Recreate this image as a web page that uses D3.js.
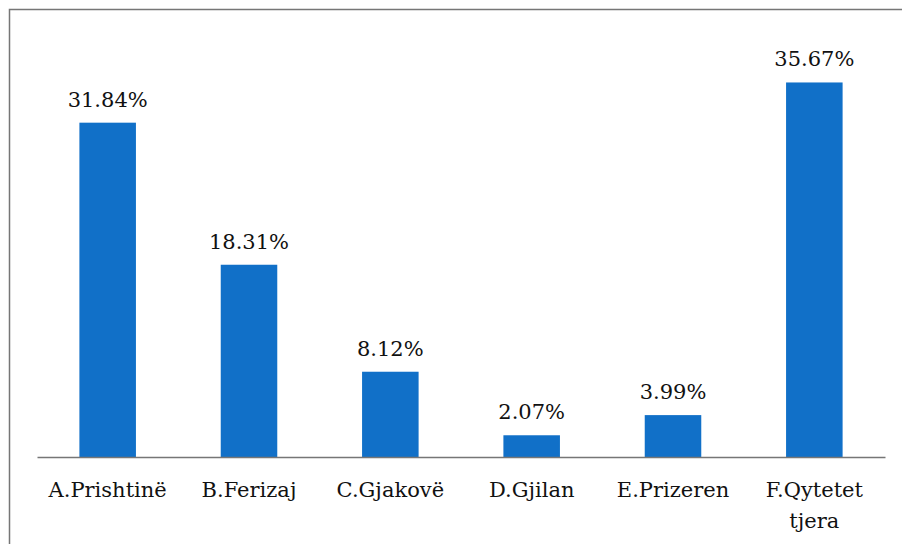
<!DOCTYPE html>
<html>
<head>
<meta charset="utf-8">
<script src="https://cdn.jsdelivr.net/npm/d3@7"></script>
<style>
  html, body { margin: 0; padding: 0; background: #fff; }
  svg { display: block; }
  text { font-family: "DejaVu Serif", "Liberation Serif", serif; fill: #111; }
</style>
</head>
<body>
<script>
//-----------------Data----------------

const categories = ["A.Prishtinë", "B.Ferizaj", "C.Gjakovë", "D.Gjilan", "E.Prizeren", "F.Qytetet tjera"];
const values = [31.84, 18.31, 8.12, 2.07, 3.99, 35.67];
const valueLabels = ["31.84%", "18.31%", "8.12%", "2.07%", "3.99%", "35.67%"];

//-----------------Main svg------------------

const width = 902;
const height = 544;
const margin = { top: 37, right: 17, bottom: 87, left: 37 };

const svg = d3.select("body").append("svg").attr("width", width).attr("height", height);

// chart border, runs off the right and bottom edge like the original
svg
  .append("rect")
  .attr("x", 9.5)
  .attr("y", 9.5)
  .attr("width", 900)
  .attr("height", 560)
  .style("fill", "none")
  .style("stroke", "#767676")
  .style("stroke-width", 1.5);

//----------------Scaling-----------------

const xScale = d3
  .scaleBand()
  .domain(categories)
  .range([margin.left, width - margin.right])
  .paddingInner(0.6)
  .paddingOuter(0.3);

const yScale = d3
  .scaleLinear()
  .domain([0, 40])
  .range([height - margin.bottom, margin.top]);

// ------------------Bars-----------------

const data = categories.map((c, i) => ({ cat: c, value: values[i], label: valueLabels[i] }));

svg
  .selectAll("rect.bar")
  .data(data)
  .enter()
  .append("rect")
  .attr("class", "bar")
  .attr("x", (d) => xScale(d.cat))
  .attr("y", (d) => yScale(d.value))
  .attr("width", xScale.bandwidth())
  .attr("height", (d) => yScale(0) - yScale(d.value))
  .style("fill", "#1170c8");

svg
  .selectAll("text.value")
  .data(data)
  .enter()
  .append("text")
  .attr("class", "value")
  .text((d) => d.label)
  .attr("x", (d) => xScale(d.cat) + xScale.bandwidth() / 2)
  .attr("y", (d) => yScale(d.value) - 16)
  .style("text-anchor", "middle")
  .style("font-size", "21px");

// ----------------------axis--------------------

const xAxis = d3.axisBottom(xScale).tickSize(0).tickPadding(0);

const gx = svg
  .append("g")
  .attr("transform", "translate(0," + yScale(0) + ")")
  .call(xAxis);

gx.select(".domain").style("stroke", "#767676").style("stroke-width", 1.5);
gx.selectAll(".tick text").remove();

// category labels, wrapped on spaces
gx.selectAll(".tick")
  .append("text")
  .style("text-anchor", "middle")
  .style("font-size", "21px")
  .style("fill", "#111")
  .each(function (d) {
    const words = d.split(" ");
    words.forEach((w, i) => {
      d3.select(this)
        .append("tspan")
        .attr("x", 0)
        .attr("y", 40 + i * 31)
        .text(w);
    });
  });
</script>
</body>
</html>
